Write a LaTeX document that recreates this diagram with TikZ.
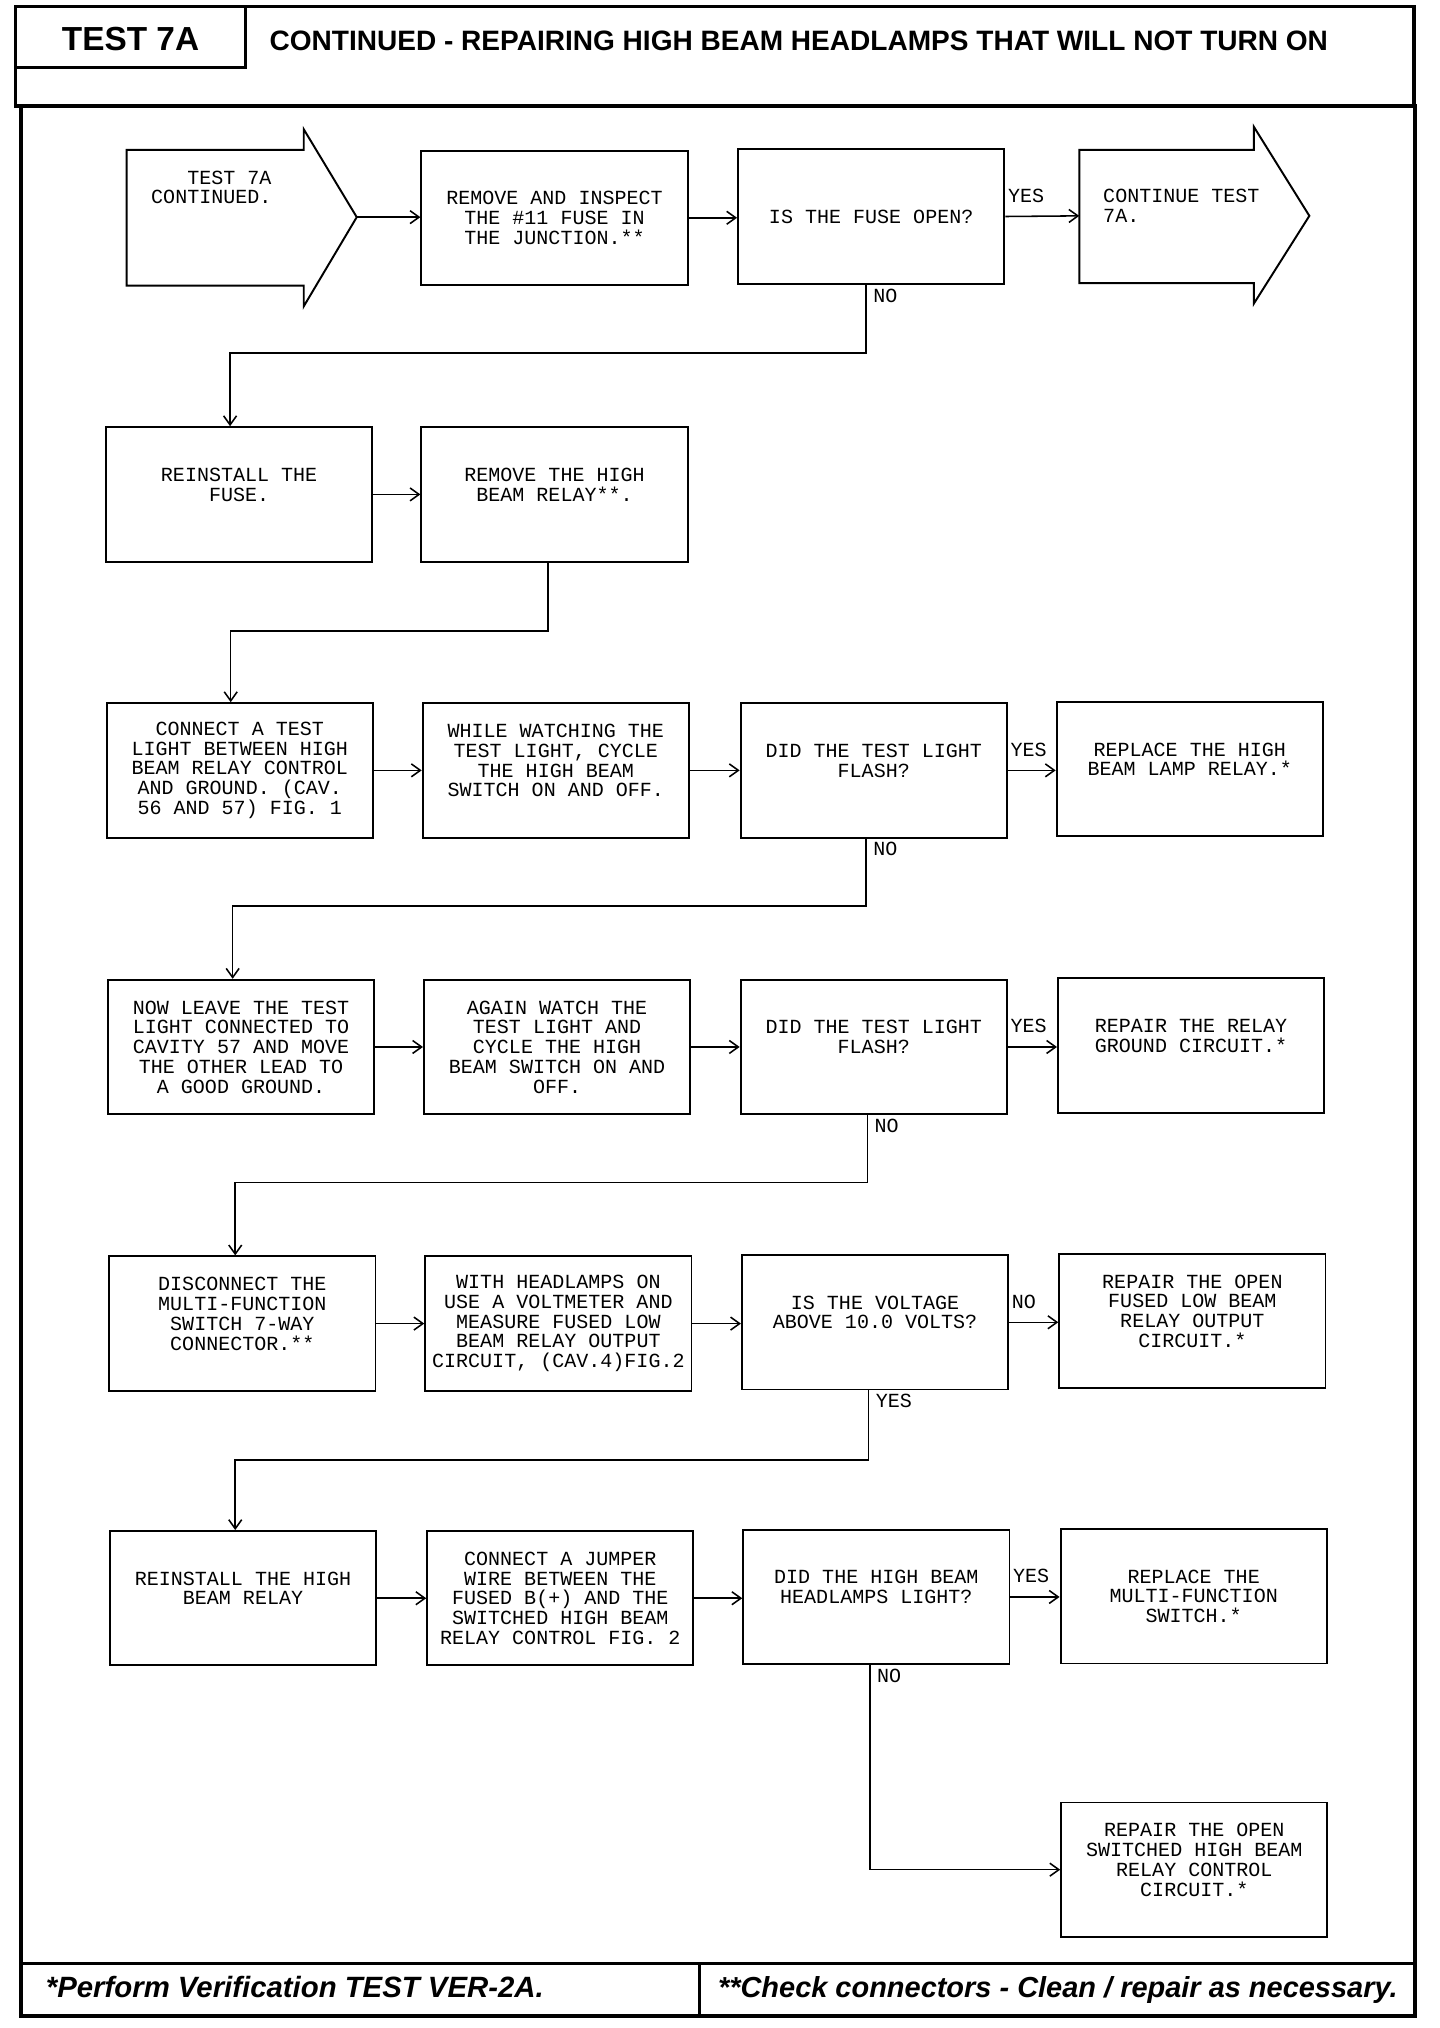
\documentclass[tikz,border=0pt]{standalone}
\usepackage{fontspec}
\setmainfont{Liberation Sans}
\newfontfamily\typefont{Liberation Mono}
\usetikzlibrary{arrows.meta}

\begin{document}
\begin{tikzpicture}[x=1pt,y=-1pt,
    box/.style={draw,line width=1.5pt,minimum width=206pt,minimum height=104pt,inner sep=1pt,align=center,
      font=\typefont\fontsize{15.5pt}{15.3pt}\selectfont},
    lbl/.style={font=\typefont\fontsize{15.5pt}{15.3pt}\selectfont,inner sep=0pt},
    yeslbl/.style={lbl,pos=0,anchor=base west,xshift=1.5pt,yshift=11pt},
    nolbl/.style={lbl,pos=0,anchor=base west,xshift=5pt,yshift=-13.5pt},
    flow/.style={line width=1.2pt,-{Straight Barb[length=7pt,width=10pt]}}]
  \useasboundingbox (0,0) rectangle (1114,1569);

  % Frame
  \draw[line width=3pt] (12,5) rectangle (1094,82);
  \draw[line width=3pt] (16,82) rectangle (1095,1560);
  \draw[line width=2pt] (190,5) -- (190,52) -- (12,52);
  \draw[line width=2.5pt] (16,1519) -- (1095,1519);
  \draw[line width=2pt] (541,1519) -- (541,1560);

  % Header and footer
  \node[anchor=base,font=\bfseries\fontsize{25.8pt}{26pt}\selectfont] (testno) at (101,39) {TEST 7A};
  \node[anchor=base west,font=\bfseries\fontsize{21.7pt}{22pt}\selectfont] (title) at (205,39)
    {CONTINUED - REPAIRING HIGH BEAM HEADLAMPS THAT WILL NOT TURN ON};
  \node[anchor=base west,font=\bfseries\itshape\fontsize{22.7pt}{23pt}\selectfont] (noteA) at (32,1545)
    {*Perform Verification TEST VER-2A.};
  \node[anchor=base west,font=\bfseries\itshape\fontsize{22.4pt}{23pt}\selectfont] (noteB) at (552,1545)
    {**Check connectors - Clean / repair as necessary.};

  % Entry and exit arrows
  \draw[line width=1.5pt] (98,116) -- (235,116) -- (235,100) -- (276,168) -- (235,237) -- (235,221) -- (98,221) -- cycle;
  \coordinate (startTip) at (276,168);
  \node[lbl,align=left] (start) at (163.5,145) {\phantom{XXX}TEST 7A\\CONTINUED.};
  \draw[line width=1.5pt] (835,116) -- (970,116) -- (970,98) -- (1013,167) -- (970,235) -- (970,219) -- (835,219) -- cycle;
  \coordinate (endTail) at (835,167);
  \node[lbl,align=left] (finish) at (914,159) {CONTINUE TEST\\7A.};

  % Row 1
  \node[box] (fuse) at (429,168.5) {REMOVE AND INSPECT\\THE \#11 FUSE IN\\THE JUNCTION.**};
  \node[box] (fuseopen) at (674,167.5) {IS THE FUSE OPEN?};

  % Row 2
  \node[box] (refuse) at (185,382.5) {REINSTALL THE\\FUSE.\\ \mbox{}};
  \node[box] (pullrelay) at (429,382.5) {REMOVE THE HIGH\\BEAM RELAY**.\\ \mbox{}};

  % Row 3
  \node[box] (connect) at (185.5,596) {CONNECT A TEST\\LIGHT BETWEEN HIGH\\BEAM RELAY CONTROL\\AND GROUND. (CAV.\\56 AND 57) FIG. 1};
  \node[box] (cycleA) at (430,596) {WHILE WATCHING THE\\TEST LIGHT, CYCLE\\THE HIGH BEAM\\SWITCH ON AND OFF.\\ \mbox{}};
  \node[box] (flashA) at (676,596) {DID THE TEST LIGHT\\FLASH?\\ \mbox{}};
  \node[box] (lamprelay) at (920.5,595) {REPLACE THE HIGH\\BEAM LAMP RELAY.*\\ \mbox{}};

  % Row 4
  \node[box] (movelead) at (186.5,810) {NOW LEAVE THE TEST\\LIGHT CONNECTED TO\\CAVITY 57 AND MOVE\\THE OTHER LEAD TO\\A GOOD GROUND.};
  \node[box] (cycleB) at (431,810) {AGAIN WATCH THE\\TEST LIGHT AND\\CYCLE THE HIGH\\BEAM SWITCH ON AND\\OFF.};
  \node[box] (flashB) at (676,810) {DID THE TEST LIGHT\\FLASH?\\ \mbox{}};
  \node[box] (relaygnd) at (921.5,809) {REPAIR THE RELAY\\GROUND CIRCUIT.*\\ \mbox{}};

  % Row 5
  \node[box] (unplug) at (187.5,1024) {DISCONNECT THE\\MULTI-FUNCTION\\SWITCH 7-WAY\\CONNECTOR.**\\ \mbox{}};
  \node[box] (measure) at (432,1024) {WITH HEADLAMPS ON\\USE A VOLTMETER AND\\MEASURE FUSED LOW\\BEAM RELAY OUTPUT\\CIRCUIT, (CAV.4)FIG.2};
  \node[box] (volts) at (677,1023) {IS THE VOLTAGE\\ABOVE 10.0 VOLTS?\\ \mbox{}};
  \node[box] (lowout) at (922.5,1022) {REPAIR THE OPEN\\FUSED LOW BEAM\\RELAY OUTPUT\\CIRCUIT.*\\ \mbox{}};

  % Row 6
  \node[box] (refit) at (188,1236.5) {REINSTALL THE HIGH\\BEAM RELAY\\ \mbox{}};
  \node[box] (jumper) at (433.5,1236.5) {CONNECT A JUMPER\\WIRE BETWEEN THE\\FUSED B(+) AND THE\\SWITCHED HIGH BEAM\\RELAY CONTROL FIG. 2};
  \node[box] (lampson) at (678,1235.5) {DID THE HIGH BEAM\\HEADLAMPS LIGHT?\\ \mbox{}};
  \node[box] (mfswitch) at (923.5,1235) {REPLACE THE\\MULTI-FUNCTION\\SWITCH.*};

  % Row 7
  \node[box] (ctrlopen) at (924,1446.5) {REPAIR THE OPEN\\SWITCHED HIGH BEAM\\RELAY CONTROL\\CIRCUIT.*\\ \mbox{}};

  % Connectors
  \draw[flow] (startTip) -- (startTip -| fuse.west);
  \draw[flow] (fuse.east) -- (fuse.east -| fuseopen.west);
  \draw[flow] (fuseopen.east) -- node[yeslbl] {YES} (endTail);
  \draw[flow] ([xshift=-4pt]fuseopen.south) -- node[nolbl] {NO} ++(0,53) -| ([xshift=-7pt]refuse.north);

  \draw[flow] (refuse.east) -- (refuse.east -| pullrelay.west);
  \draw[flow] ([xshift=-5pt]pullrelay.south) -- ++(0,53) -| ([xshift=-7pt]connect.north);

  \draw[flow] (connect.east) -- (connect.east -| cycleA.west);
  \draw[flow] (cycleA.east) -- (cycleA.east -| flashA.west);
  \draw[flow] (flashA.east) -- node[yeslbl] {YES} (flashA.east -| lamprelay.west);
  \draw[flow] ([xshift=-6pt]flashA.south) -- node[nolbl] {NO} ++(0,52) -| ([xshift=-6.5pt]movelead.north);

  \draw[flow] (movelead.east) -- (movelead.east -| cycleB.west);
  \draw[flow] (cycleB.east) -- (cycleB.east -| flashB.west);
  \draw[flow] (flashB.east) -- node[yeslbl] {YES} (flashB.east -| relaygnd.west);
  \draw[flow] ([xshift=-5pt]flashB.south) -- node[nolbl] {NO} ++(0,52) -| ([xshift=-5.5pt]unplug.north);

  \draw[flow] (unplug.east) -- (unplug.east -| measure.west);
  \draw[flow] (measure.east) -- (measure.east -| volts.west);
  \draw[flow] (volts.east) -- node[yeslbl] {NO} (volts.east -| lowout.west);
  \draw[flow] ([xshift=-5pt]volts.south) -- node[nolbl] {YES} ++(0,54) -| ([xshift=-6pt]refit.north);

  \draw[flow] (refit.east) -- (refit.east -| jumper.west);
  \draw[flow] (jumper.east) -- (jumper.east -| lampson.west);
  \draw[flow] (lampson.east) -- node[yeslbl] {YES} (lampson.east -| mfswitch.west);
  \draw[flow] ([xshift=-5pt]lampson.south) |- node[nolbl] {NO} (ctrlopen.west);
\end{tikzpicture}
\end{document}
